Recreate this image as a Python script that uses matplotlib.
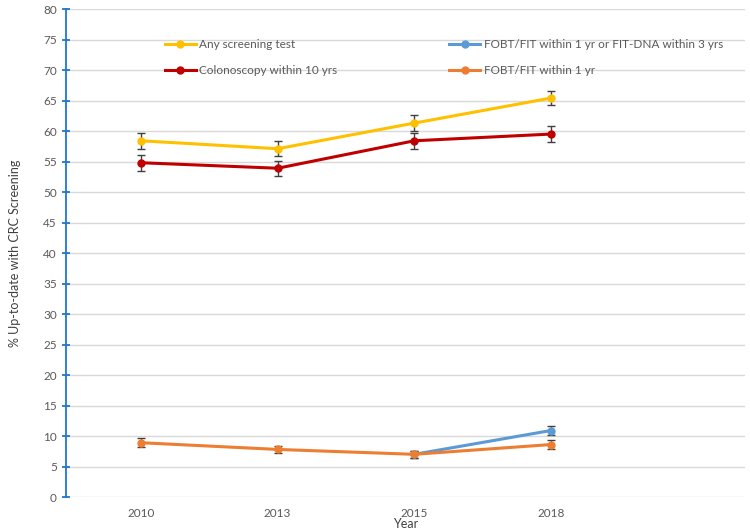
import matplotlib.pyplot as plt
from matplotlib.lines import Line2D

years = ["2010", "2013", "2015", "2018"]
any_test = [58.4, 57.1, 61.3, 65.4]
any_err = [1.3, 1.2, 1.3, 1.2]
colon = [54.8, 53.9, 58.4, 59.5]
colon_err = [1.3, 1.2, 1.3, 1.3]
fobt_dna_years = ["2015", "2018"]
fobt_dna = [7.0, 10.9]
fobt_dna_err = [0.6, 0.8]
fobt = [8.9, 7.8, 7.0, 8.6]
fobt_err = [0.7, 0.6, 0.6, 0.7]

plt.rcParams['font.family'] = ['Lato', 'DejaVu Sans']

fig = plt.figure(figsize=(7.5, 5.31), dpi=100)
ax = fig.add_axes([0.088, 0.064, 0.905, 0.919])

x = list(range(len(years)))
x_dna = [years.index(y) for y in fobt_dna_years]
ekw = dict(ecolor="#404040", elinewidth=1, capsize=3, capthick=1, lw=2.2,
           marker="o", ms=5)
series = [
    (x, any_test, any_err, "#FFC000", "Any screening test"),
    (x, colon, colon_err, "#C00000", "Colonoscopy within 10 yrs"),
    (x_dna, fobt_dna, fobt_dna_err, "#5B9BD5", "FOBT/FIT within 1 yr or FIT-DNA within 3 yrs"),
    (x, fobt, fobt_err, "#ED7D31", "FOBT/FIT within 1 yr"),
]
handles = []
for xs, ys, es, c, lab in series:
    ax.errorbar(xs, ys, yerr=es, color=c, **ekw)
    handles.append(Line2D([], [], color=c, lw=2.2, marker="o", ms=5, label=lab))

ax.set_ylim(0, 80)
ax.set_yticks(range(0, 81, 5))
ax.set_xlim(-0.55, 4.42)
ax.set_xticks(x)
ax.set_xticklabels(years)
ax.yaxis.grid(color="#D9D9D9", linewidth=1)
ax.set_axisbelow(True)
for s in ["top", "right", "bottom"]:
    ax.spines[s].set_visible(False)
ax.spines["left"].set_color("#1F77D0")
ax.spines["left"].set_linewidth(1.3)
ax.tick_params(axis="y", colors="#1F77D0", direction="inout", length=6, width=1.3,
               labelcolor="#595959", labelsize=8.5)
ax.tick_params(axis="x", length=0, labelcolor="#595959", labelsize=8.5, pad=8)
ax.set_ylabel("% Up-to-date with CRC Screening", color="#404040", fontsize=9, labelpad=16)
ax.set_xlabel("Year", color="#404040", fontsize=9, labelpad=-1)

ax.legend(handles=handles, ncol=2, frameon=False, loc="upper left",
          bbox_to_anchor=(0.13, 0.96), fontsize=8.5, columnspacing=9.5,
          handlelength=2.6, handletextpad=0.3, labelspacing=1.25,
          labelcolor="#595959")

fig.savefig("out.png", dpi=100)
